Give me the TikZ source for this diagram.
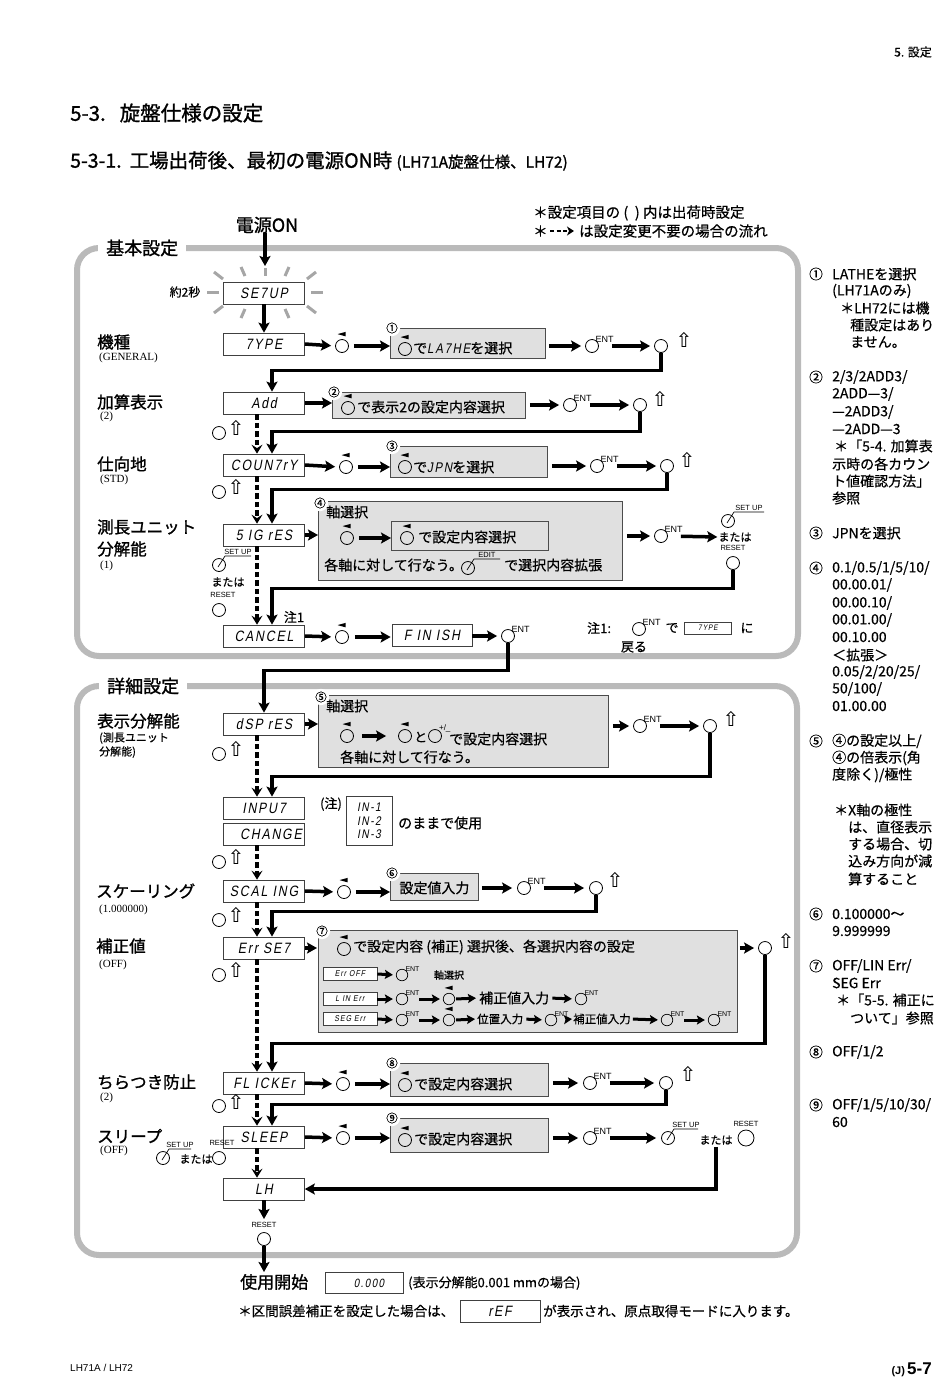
\documentclass[tikz,border=0pt]{standalone}
\usepackage{fontspec}
\setmainfont{Noto Sans CJK JP}[FakeBold=0.5]
\newfontfamily\jb{Noto Sans CJK JP}[FakeBold=1.2]
\newfontfamily\ser{Liberation Serif}
\newfontfamily\hv{Liberation Sans}
\newfontfamily\seg{Liberation Sans}[FakeStretch=0.82,FakeSlant=0.18,LetterSpace=12]
\newfontfamily\dv{DejaVu Sans}
\newcommand\fsz[1]{\fontsize{#1}{#1}\selectfont}
\usetikzlibrary{arrows.meta,calc}
\newcommand\lmk[1]{\fill ([xshift=-4.5pt,yshift=5pt]#1.north) -- ([xshift=3.5pt,yshift=7.2pt]#1.north) -- ([xshift=3.5pt,yshift=2.8pt]#1.north) -- cycle;}
\newcommand\ent[1]{\node[entl] at ([xshift=-1.5pt,yshift=-1.5pt]#1.north east) {ENT};}
\newcommand\sent[1]{\node[entl,font=\hv\fsz{7}] at ([xshift=-1pt,yshift=-1pt]#1.north east) {ENT};}
\newcommand\lead[3]{\draw[line width=0.7pt] ([xshift=-1pt,yshift=-2pt]#1.center) -- ([xshift=6pt,yshift=9pt]#1.center) -- ++(#3,0) node[tinyl,midway,above=0.8pt] {#2};}
\begin{document}
\begin{tikzpicture}[x=1pt,y=-1pt,
  disp/.style={draw=black!75,line width=0.7pt,fill=white,minimum width=81pt,minimum height=22pt,inner sep=0pt,font=\seg\fsz{15}},
  sdisp/.style={draw=black!75,line width=0.7pt,fill=white,minimum width=54pt,minimum height=13pt,inner sep=0pt,font=\seg\fsz{8.5}},
  gbox/.style={draw=black!70,line width=0.8pt,fill=black!12,inner sep=0pt,anchor=north west},
  key/.style={circle,draw,line width=0.8pt,minimum size=13pt,inner sep=0pt},
  skey/.style={circle,draw,line width=0.7pt,minimum size=11.5pt,inner sep=0pt},
  arr/.style={line width=3.5pt,-{Stealth[length=10pt,width=11pt,inset=2pt]}},
  sarr/.style={line width=3pt,-{Stealth[length=8pt,width=9pt,inset=1.5pt]}},
  darr/.style={line width=3.5pt,dash pattern=on 5.5pt off 3pt,-{Stealth[length=9pt,width=11pt,inset=3.5pt]}},
  frm/.style={line width=6pt,draw=black!27,rounded corners=22pt},
  jlbl/.style={font=\jb\fsz{16.5},anchor=west,inner sep=0pt},
  jsub/.style={font=\ser\fsz{11},anchor=west,inner sep=0pt},
  jtxt/.style={font=\fsz{14},inner sep=0pt,anchor=west},
  jnote/.style={font=\fsz{14},anchor=west,inner sep=0pt},
  jsm/.style={font=\fsz{12},inner sep=0pt},
  cnum/.style={font=\fsz{11.5},inner sep=0.2pt,fill=white,circle},
  tinyl/.style={font=\hv\fsz{7.5},inner sep=0pt},
  entl/.style={font=\hv\fsz{9},inner sep=0pt,anchor=south west},
  upa/.style={font=\dv\fsz{20},inner sep=0pt},
  ray/.style={line width=3pt,draw=black!35},
]
\fill[white] (0,0) rectangle (950,1382);
\useasboundingbox (0,0) rectangle (950,1382);

% header
\node[font=\fsz{12},anchor=east,inner sep=0pt] (hdr) at (932,52) {5. 設定};
\node[font=\jb\fsz{20.5},anchor=west,inner sep=0pt] (tt1) at (70,113) {5-3.\hspace{14pt}旋盤仕様の設定};
\node[font=\jb\fsz{19.5},anchor=west,inner sep=0pt] (tt2) at (70,161) {5-3-1.\hspace{8pt}工場出荷後、最初の電源ON時 {\fsz{15.5}(LH71A旋盤仕様、LH72)}};
\node[font=\fsz{14.5},anchor=west,inner sep=0pt] (lg1) at (533,213) {＊設定項目の (\ \ ) 内は出荷時設定};
\node[font=\fsz{14.5},anchor=west,inner sep=0pt] (lg2) at (533,231) {＊};
\coordinate (lgA) at (550,231); \coordinate (lgB) at (574,231);
\draw[line width=2.8pt,dash pattern=on 4pt off 2.5pt,-{Stealth[length=7pt,width=9pt,inset=2pt]}] (lgA) -- (lgB);
\node[font=\fsz{14.5},anchor=west,inner sep=0pt] (lg3) at (579,231) {は設定変更不要の場合の流れ};

% frames
\draw[frm] (77,248) rectangle (798,656);
\node[font=\jb\fsz{18},fill=white,inner xsep=8pt,inner ysep=3pt,anchor=west] (kh) at (98,248) {基本設定};
\draw[frm] (77,686) rectangle (797,1255);
\node[font=\jb\fsz{18},fill=white,inner xsep=8pt,inner ysep=3pt,anchor=west] (sh) at (99,686) {詳細設定};

% power on
\node[font=\jb\fsz{18},inner sep=0pt] (pwr) at (267,225) {電源ON};
\coordinate (pT) at (265,266);
\draw[arr] (pwr.south -| pT) -- (pT);

% SETUP
\node[disp] (setup) at (264,293) {SE7UP};
\draw[ray] (265,268)--(265,276);
\draw[ray] (241,267)--(245,276); \draw[ray] (289,267)--(285,276);
\draw[ray] (214,272)--(223,279); \draw[ray] (316,272)--(307,279);
\draw[ray] (207,292)--(219,292); \draw[ray] (311,292)--(323,292);
\draw[ray] (214,313)--(223,306); \draw[ray] (316,313)--(307,306);
\draw[ray] (241,318)--(245,309); \draw[ray] (289,318)--(285,309);
\node[jsm] (two) at (185,292) {約2秒};

% TYPE row
\node[jlbl] (l1) at (97,342) {機種};
\node[jsub] (l1s) at (99,358) {(GENERAL)};
\node[disp] (type) at (264,344) {7YPE};
\draw[arr] (setup.south) -- (type.north);
\node[key] (t1k) at (342,346) {}; \lmk{t1k}
\node[gbox,minimum width=155pt,minimum height=30pt] (b1) at (390,328) {};
\node[cnum] at ([xshift=2pt]b1.north west) {①};
\node[key] (b1k) at (405,349) {}; \lmk{b1k}
\node[jtxt] at (413,348) {で{\seg\fsz{14}LA7HE}を選択};
\node[key] (t2k) at (592,346) {}; \ent{t2k}
\node[key] (t3k) at (661,346) {}; \node[upa] at (684,340) {⇧};
\draw[arr,shorten >=4pt] (type.east) -- (t1k.west);
\draw[arr,shorten <=5pt] (t1k.east) -- (t1k.east -| b1.west);
\draw[arr,shorten <=3pt,shorten >=4pt] (b1.east |- t2k) -- (t2k.west);
\draw[arr,shorten <=13pt,shorten >=4pt] (t2k.east) -- (t3k.west);

% Add row
\node[jlbl] at (97,402) {加算表示};
\node[jsub] at (100,417) {(2)};
\node[disp] (add) at (264,403) {Add};
\draw[arr] (t3k.south) |- ([xshift=8pt,yshift=21pt]add.north) -- ([xshift=8pt]add.north);
\node[gbox,minimum width=193pt,minimum height=26pt] (b2) at (332,392) {};
\node[cnum] at ([xshift=2pt]b2.north west) {②};
\node[key] (b2k) at (348,408) {}; \lmk{b2k}
\node[jtxt] at (357,407) {で表示2の設定内容選択};
\node[key] (a2k) at (570,405) {}; \ent{a2k}
\node[key] (a3k) at (640,405) {}; \node[upa] at (660,399) {⇧};
\draw[arr] (add.east) -- (add.east -| b2.west);
\draw[arr,shorten <=4pt,shorten >=4pt] (b2.east |- a2k) -- (a2k.west);
\draw[arr,shorten <=13pt,shorten >=4pt] (a2k.east) -- (a3k.west);
\node[key] (a4k) at (219,433) {}; \node[upa] at (236,428) {⇧};

% COUNTRY row
\node[jlbl] at (97,464) {仕向地};
\node[jsub] at (100,480) {(STD)};
\node[disp] (cty) at (264,465) {COUN7rY};
\draw[arr] (a3k.south) |- ([xshift=8pt,yshift=22pt]cty.north) -- ([xshift=8pt]cty.north);
\draw[darr] ([xshift=-7pt]add.south) -- ([xshift=-7pt]cty.north);
\node[key] (c1k) at (346,467) {}; \lmk{c1k}
\node[gbox,minimum width=157pt,minimum height=31pt] (b3) at (390,446) {};
\node[cnum] at ([xshift=2pt]b3.north west) {③};
\node[key] (b3k) at (405,467) {}; \lmk{b3k}
\node[jtxt] at (413,467) {で{\seg\fsz{14}JPN}を選択};
\node[key] (c2k) at (597,466) {}; \ent{c2k}
\node[key] (c3k) at (667,466) {}; \node[upa] at (687,460) {⇧};
\draw[arr,shorten >=4pt] (cty.east) -- (c1k.west);
\draw[arr,shorten <=5pt] (c1k.east) -- (c1k.east -| b3.west);
\draw[arr,shorten <=4pt,shorten >=4pt] (b3.east |- c2k) -- (c2k.west);
\draw[arr,shorten <=13pt,shorten >=4pt] (c2k.east) -- (c3k.west);
\node[key] (c4k) at (219,492) {}; \node[upa] at (236,487) {⇧};

% SIG row
\node[jlbl] at (97,527) {測長ユニット};
\node[jlbl] at (97,549) {分解能};
\node[jsub] at (100,566) {(1)};
\node[disp] (sig) at (264,535) {5 IG rES};
\draw[arr] (c3k.south) |- ([xshift=8pt,yshift=34pt]sig.north) -- ([xshift=8pt]sig.north);
\draw[darr] ([xshift=-7pt]cty.south) -- ([xshift=-7pt]sig.north);
\node[gbox,minimum width=304pt,minimum height=79pt] (b4) at (318,501) {};
\node[cnum] at ([xshift=2pt,yshift=-2pt]b4.north west) {④};
\node[jtxt] at (326,512) {軸選択};
\node[key] (s1k) at (347,538) {}; \lmk{s1k}
\node[gbox,minimum width=157pt,minimum height=29pt] (b4i) at (391,521) {};
\node[key] (b4k) at (407,538) {}; \lmk{b4k}
\node[jtxt] at (418,537) {で設定内容選択};
\node[jtxt] at (324,565) {各軸に対して行なう。};
\node[key] (edk) at (468,568) {}; \lead{edk}{EDIT}{26}
\node[jtxt] at (504,565) {で選択内容拡張};
\node[key] (s2k) at (661,536) {}; \ent{s2k}
\node[key] (s3k) at (728,521) {}; \lead{s3k}{SET UP}{30}
\node[font=\fsz{11},inner sep=0pt] (smt) at (735,537) {または};
\node[tinyl] at (733,548) {RESET};
\node[key] (s4k) at (733,563) {};
\draw[arr] (sig.east) -- (sig.east -| b4.west);
\draw[arr,shorten <=5pt] (s1k.east) -- (s1k.east -| b4i.west);
\draw[arr,shorten <=4pt,shorten >=4pt] (b4.east |- s2k) -- (s2k.west);
\draw[arr,shorten <=13pt,shorten >=1pt] (s2k.east) -- (smt.west);
\node[key] (s5k) at (219,565) {}; \lead{s5k}{SET UP}{26}
\node[font=\fsz{11},inner sep=0pt] at (228,582) {または};
\node[tinyl] at (223,595) {RESET};
\node[key] (s6k) at (219,610) {};
\node[font=\fsz{13},inner sep=0pt] at (294,617) {注1};

% CANCEL row
\node[disp] (can) at (264,636) {CANCEL};
\draw[arr] (s4k.south) |- ([xshift=8pt,yshift=36pt]can.north) -- ([xshift=8pt]can.north);
\draw[darr] ([xshift=-7pt]sig.south) -- ([xshift=-7pt]can.north);
\node[key] (n1k) at (342,637) {}; \lmk{n1k}
\node[disp,minimum width=80pt] (fin) at (432,635) {F IN ISH};
\node[key] (n2k) at (508,636) {}; \ent{n2k}
\draw[arr,shorten >=4pt] (can.east) -- (n1k.west);
\draw[arr,shorten <=6pt,shorten >=1pt] (n1k.east) -- (n1k.east -| fin.west);
\draw[arr,shorten >=4pt] (fin.east |- n2k) -- (n2k.west);
\node[font=\fsz{13},anchor=west,inner sep=0pt] at (587,628) {注1:};
\node[key] (q1k) at (639,629) {}; \ent{q1k}
\node[font=\fsz{13},inner sep=0pt] at (672,628) {で};
\node[disp,minimum width=47pt,minimum height=12pt,font=\seg\fsz{8}] (qt) at (708,628) {7YPE};
\node[font=\fsz{13},inner sep=0pt] at (747,628) {に};
\node[font=\fsz{13},inner sep=0pt] at (634,647) {戻る};

% dSP row
\node[jlbl] at (97,721) {表示分解能};
\node[font=\fsz{11},anchor=west,inner sep=0pt] at (99,738) {(測長ユニット};
\node[font=\fsz{11},anchor=west,inner sep=0pt] at (99,752) {分解能)};
\node[disp] (dsp) at (264,724) {dSP rES};
\draw[arr] (n2k.south) |- ([yshift=42pt]dsp.north) -- (dsp.north);
\node[gbox,minimum width=290pt,minimum height=72pt] (b5) at (318,695) {};
\node[cnum] at ([xshift=3pt,yshift=-2pt]b5.north west) {⑤};
\node[jtxt] at (326,706) {軸選択};
\node[key] (d1k) at (347,736) {}; \lmk{d1k}
\node[key] (d2k) at (405,736) {}; \lmk{d2k}
\node[font=\fsz{13},inner sep=0pt,anchor=west] at (414,737) {と};
\node[key] (d3k) at (435,736) {};
\node[font=\hv\fsz{8},anchor=south west,inner sep=0pt] at ([xshift=-1pt,yshift=-1pt]d3k.north east) {+/\_};
\node[jtxt] at (449,739) {で設定内容選択};
\node[jtxt] at (340,757) {各軸に対して行なう。};
\node[key] (d4k) at (640,726) {}; \ent{d4k}
\node[key] (d5k) at (710,726) {}; \node[upa] at (731,719) {⇧};
\draw[arr] (dsp.east) -- (dsp.east -| b5.west);
\draw[arr,shorten <=8pt,shorten >=12pt] (d1k.east) -- (d2k.west);
\draw[arr,shorten <=4pt,shorten >=4pt] (b5.east |- d4k) -- (d4k.west);
\draw[arr,shorten <=13pt,shorten >=4pt] (d4k.east) -- (d5k.west);
\node[key] (d6k) at (219,754) {}; \node[upa] at (236,749) {⇧};

% INPUT / CHANGE
\node[disp] (inp) at (264,808) {INPU7\hspace{22pt}};
\node[disp] (chg) at (264,834) {\hspace{14pt}CHANGE};
\draw[arr] (d5k.south) |- ([xshift=8pt,yshift=20pt]inp.north) -- ([xshift=8pt]inp.north);
\draw[darr] ([xshift=-7pt]dsp.south) -- ([xshift=-7pt]inp.north);
\node[font=\fsz{13},inner sep=0pt] at (331,804) {(注)};
\node[disp,minimum width=46pt,minimum height=49pt,align=left,font=\seg\fontsize{12.5}{13.5}\selectfont] (inb) at (369,821) {IN-1\\IN-2\\IN-3};
\node[jtxt] at (398,823) {のままで使用};
\node[key] (i1k) at (219,862) {}; \node[upa] at (236,857) {⇧};

% SCALING
\node[jlbl] at (96,891) {スケーリング};
\node[jsub] at (99,910) {(1.000000)};
\node[disp] (scl) at (264,891) {SCAL ING};
\draw[darr] ([xshift=-7pt]chg.south) -- ([xshift=-7pt]scl.north);
\node[key] (g1k) at (344,892) {}; \lmk{g1k}
\node[gbox,minimum width=88pt,minimum height=27pt] (b6) at (390,873) {};
\node[cnum] at ([xshift=2pt]b6.north west) {⑥};
\node[font=\fsz{14},inner sep=0pt] at ([yshift=-1pt]b6.center) {設定値入力};
\node[key] (g2k) at (524,888) {}; \ent{g2k}
\node[key] (g3k) at (596,888) {}; \node[upa] at (615,880) {⇧};
\draw[arr,shorten >=4pt] (scl.east) -- (g1k.west);
\draw[arr,shorten <=5pt] (g1k.east) -- (g1k.east -| b6.west);
\draw[arr,shorten <=3pt,shorten >=5pt] (b6.east |- g2k) -- (g2k.west);
\draw[arr,shorten <=13pt,shorten >=5pt] (g2k.east) -- (g3k.west);
\node[key] (g4k) at (219,920) {}; \node[upa] at (236,915) {⇧};

% Err
\node[jlbl] at (96,946) {補正値};
\node[jsub] at (99,965) {(OFF)};
\node[disp] (err) at (264,948) {Err SE7};
\draw[arr] (g3k.south) |- ([xshift=8pt,yshift=25pt]err.north) -- ([xshift=8pt]err.north);
\draw[darr] ([xshift=-7pt]scl.south) -- ([xshift=-7pt]err.north);
\node[gbox,minimum width=419pt,minimum height=102pt] (b7) at (318,930) {};
\node[cnum] at ([xshift=4pt,yshift=-1pt]b7.north west) {⑦};
\node[key] (e1k) at (344,949) {}; \lmk{e1k}
\node[jtxt] at (353,947) {で設定内容 (補正) 選択後、各選択内容の設定};
\draw[arr,shorten >=1pt] (err.east) -- (err.east -| b7.west);
\node[sdisp] (eo) at (350,974) {Err OFF};
\node[skey] (eo1) at (402,975) {}; \sent{eo1}
\node[sdisp] (el) at (350,999) {L IN Err};
\node[skey] (el1) at (402,999) {}; \sent{el1}
\node[skey] (el2) at (449,999) {}; \lmk{el2}
\node[font=\fsz{10},inner sep=0pt] at (449,975) {軸選択};
\node[font=\fsz{14},anchor=west,inner sep=0pt] (el3) at (479,998) {補正値入力};
\node[skey] (el4) at (581,999) {}; \sent{el4}
\node[sdisp] (es) at (350,1019) {SEG Err};
\node[skey] (es1) at (402,1020) {}; \sent{es1}
\node[skey] (es2) at (449,1020) {}; \lmk{es2}
\node[font=\fsz{11.5},anchor=west,inner sep=0pt] (es3) at (477,1019) {位置入力};
\node[skey] (es4) at (551,1020) {}; \sent{es4}
\node[font=\fsz{11.5},anchor=west,inner sep=0pt] (es5) at (573,1019) {補正値入力};
\node[skey] (es6) at (667,1020) {}; \sent{es6}
\node[skey] (es7) at (714,1020) {}; \sent{es7}
\draw[sarr,shorten >=3pt] (eo.east) -- (eo1.west);
\draw[sarr,shorten >=3pt] (el.east) -- (el1.west);
\draw[sarr,shorten <=11pt,shorten >=3pt] (el1.east) -- (el2.west);
\draw[sarr,shorten <=1pt,shorten >=3pt] (el2.east) -- (el3.west);
\draw[sarr,shorten <=3pt,shorten >=3pt] (el3.east) -- (el4.west);
\draw[sarr,shorten >=3pt] (es.east) -- (es1.west);
\draw[sarr,shorten <=11pt,shorten >=3pt] (es1.east) -- (es2.west);
\draw[sarr,shorten <=1pt,shorten >=2pt] (es2.east) -- (es3.west);
\draw[sarr,shorten <=3pt,shorten >=3pt] (es3.east) -- (es4.west);
\draw[sarr,shorten <=11pt,shorten >=1pt] (es4.east) -- (es5.west);
\draw[sarr,shorten <=2pt,shorten >=3pt] (es5.east) -- (es6.west);
\draw[sarr,shorten <=11pt,shorten >=3pt] (es6.east) -- (es7.west);
\node[key] (e2k) at (765,948) {}; \node[upa] at (786,941) {⇧};
\draw[arr,shorten <=2pt,shorten >=4pt] (b7.east |- e2k) -- (e2k.west);
\node[key] (e4k) at (219,975) {}; \node[upa] at (236,970) {⇧};

% FLICKER
\node[jlbl] at (97,1082) {ちらつき防止};
\node[jsub] at (100,1098) {(2)};
\node[disp] (flk) at (264,1083) {FL ICKEr};
\draw[arr] (e2k.south) |- ([xshift=8pt,yshift=28pt]flk.north) -- ([xshift=8pt]flk.north);
\draw[darr] ([xshift=-7pt]err.south) -- ([xshift=-7pt]flk.north);
\node[key] (f1k) at (343,1084) {}; \lmk{f1k}
\node[gbox,minimum width=158pt,minimum height=33pt] (b8) at (390,1063) {};
\node[cnum] at ([xshift=2pt]b8.north west) {⑧};
\node[key] (b8k) at (405,1085) {}; \lmk{b8k}
\node[jtxt] at (414,1084) {で設定内容選択};
\node[key] (f2k) at (590,1083) {}; \ent{f2k}
\node[key] (f3k) at (666,1083) {}; \node[upa] at (688,1074) {⇧};
\draw[arr,shorten >=4pt] (flk.east) -- (f1k.west);
\draw[arr,shorten <=5pt] (f1k.east) -- (f1k.east -| b8.west);
\draw[arr,shorten <=4pt,shorten >=5pt] (b8.east |- f2k) -- (f2k.west);
\draw[arr,shorten <=13pt,shorten >=5pt] (f2k.east) -- (f3k.west);
\node[key] (f4k) at (219,1106) {}; \node[upa] at (236,1102) {⇧};

% SLEEP
\node[jlbl] at (97,1136) {スリープ};
\node[jsub] at (100,1151) {(OFF)};
\node[disp] (slp) at (264,1137) {SLEEP};
\draw[arr] (f3k.south) |- ([xshift=8pt,yshift=21pt]slp.north) -- ([xshift=8pt]slp.north);
\draw[darr] ([xshift=-7pt]flk.south) -- ([xshift=-7pt]slp.north);
\node[key] (p1k) at (343,1138) {}; \lmk{p1k}
\node[gbox,minimum width=158pt,minimum height=34pt] (b9) at (390,1118) {};
\node[cnum] at ([xshift=2pt]b9.north west) {⑨};
\node[key] (b9k) at (405,1140) {}; \lmk{b9k}
\node[jtxt] at (414,1139) {で設定内容選択};
\node[key] (p2k) at (590,1138) {}; \ent{p2k}
\node[key] (p3k) at (668,1138) {}; \lead{p3k}{SET UP}{24}
\node[font=\fsz{11},inner sep=0pt] (pm) at (716,1140) {または};
\node[key,minimum size=16pt] (p4k) at (746,1138) {};
\node[tinyl] at (746,1124) {RESET};
\draw[arr,shorten >=4pt] (slp.east) -- (p1k.west);
\draw[arr,shorten <=5pt] (p1k.east) -- (p1k.east -| b9.west);
\draw[arr,shorten <=4pt,shorten >=5pt] (b9.east |- p2k) -- (p2k.west);
\draw[arr,shorten <=13pt,shorten >=5pt] (p2k.east) -- (p3k.west);
\node[key] (p5k) at (163,1158) {}; \lead{p5k}{SET UP}{22}
\node[font=\fsz{11},inner sep=0pt] at (196,1159) {または};
\node[tinyl] at (222,1143) {RESET};
\node[key] (p6k) at (219,1158) {};

% LH
\node[disp] (lh) at (264,1189) {LH};
\draw[arr] ([yshift=-2pt]pm.south) |- (lh.east);
\draw[darr] ([xshift=-7pt]slp.south) -- ([xshift=-7pt]lh.north);
\coordinate (rT) at (264,1219);
\draw[arr] (lh.south) -- (rT);
\node[tinyl] at (264,1225) {RESET};
\node[key] (rk) at (264,1239) {};
\coordinate (uB) at (264,1272);
\draw[arr] (rk.south) -- (uB);

% bottom
\node[font=\jb\fsz{17},anchor=west,inner sep=0pt] at (240,1282) {使用開始};
\node[disp,minimum width=78pt,minimum height=21pt,font=\seg\fsz{12}] (zz) at (364,1283) {\hspace{10pt}0.000};
\node[font=\fsz{13},anchor=west,inner sep=0pt] at (408,1283) {(表示分解能0.001 mmの場合)};
\node[font=\fsz{13.5},anchor=west,inner sep=0pt] at (238,1311) {＊区間誤差補正を設定した場合は、};
\node[disp,minimum width=80pt] (ref) at (500,1311) {rEF};
\node[font=\fsz{13.5},anchor=west,inner sep=0pt] at (543,1311) {が表示され、原点取得モードに入ります。};

% footer
\node[font=\hv\fsz{10},anchor=west,inner sep=0pt] at (70,1368) {LH71A / LH72};
\node[anchor=east,inner sep=0pt] at (932,1370) {{\hv\bfseries\fsz{11}(J)} {\hv\bfseries\fsz{17}5-7}};

% right notes
\foreach \yy/\cc in {274/①,377/②,533/③,568/④,741/⑤,914/⑥,966/⑦,1052/⑧,1105/⑨}
  \node[font=\fsz{13.5},inner sep=0pt] at (816,\yy) {\cc};
\node[jnote] at (832,274) {LATHEを選択};
\node[jnote] at (832,291) {(LH71Aのみ)};
\node[jnote] at (840,308) {＊LH72には機};
\node[jnote] at (850,325) {種設定はあり};
\node[jnote] at (850,342) {ません。};
\node[jnote] at (832,377) {2/3/2ADD3/};
\node[jnote] at (832,394) {2ADD—3/};
\node[jnote] at (832,412) {—2ADD3/};
\node[jnote] at (832,429) {—2ADD—3};
\node[jnote] at (834,446) {＊「5-4. 加算表};
\node[jnote] at (832,464) {示時の各カウン};
\node[jnote] at (832,481) {ト値確認方法」};
\node[jnote] at (832,498) {参照};
\node[jnote] at (832,533) {JPNを選択};
\node[jnote] at (832,568) {0.1/0.5/1/5/10/};
\node[jnote] at (832,585) {00.00.01/};
\node[jnote] at (832,603) {00.00.10/};
\node[jnote] at (832,620) {00.01.00/};
\node[jnote] at (832,637) {00.10.00};
\node[jnote] at (832,655) {＜拡張＞};
\node[jnote] at (832,672) {0.05/2/20/25/};
\node[jnote] at (832,689) {50/100/};
\node[jnote] at (832,706) {01.00.00};
\node[jnote] at (832,741) {④の設定以上/};
\node[jnote] at (832,758) {④の倍表示(角};
\node[jnote] at (832,775) {度除く)/極性};
\node[jnote] at (834,810) {＊X軸の極性};
\node[jnote] at (848,827) {は、直径表示};
\node[jnote] at (848,844) {する場合、切};
\node[jnote] at (848,861) {込み方向が減};
\node[jnote] at (848,879) {算すること};
\node[jnote] at (832,914) {0.100000～};
\node[jnote] at (832,931) {9.999999};
\node[jnote] at (832,966) {OFF/LIN Err/};
\node[jnote] at (832,983) {SEG Err};
\node[jnote] at (836,1000) {＊「5-5. 補正に};
\node[jnote] at (850,1018) {ついて」参照};
\node[jnote] at (832,1052) {OFF/1/2};
\node[jnote] at (832,1105) {OFF/1/5/10/30/};
\node[jnote] at (832,1122) {60};
\end{tikzpicture}
\end{document}
